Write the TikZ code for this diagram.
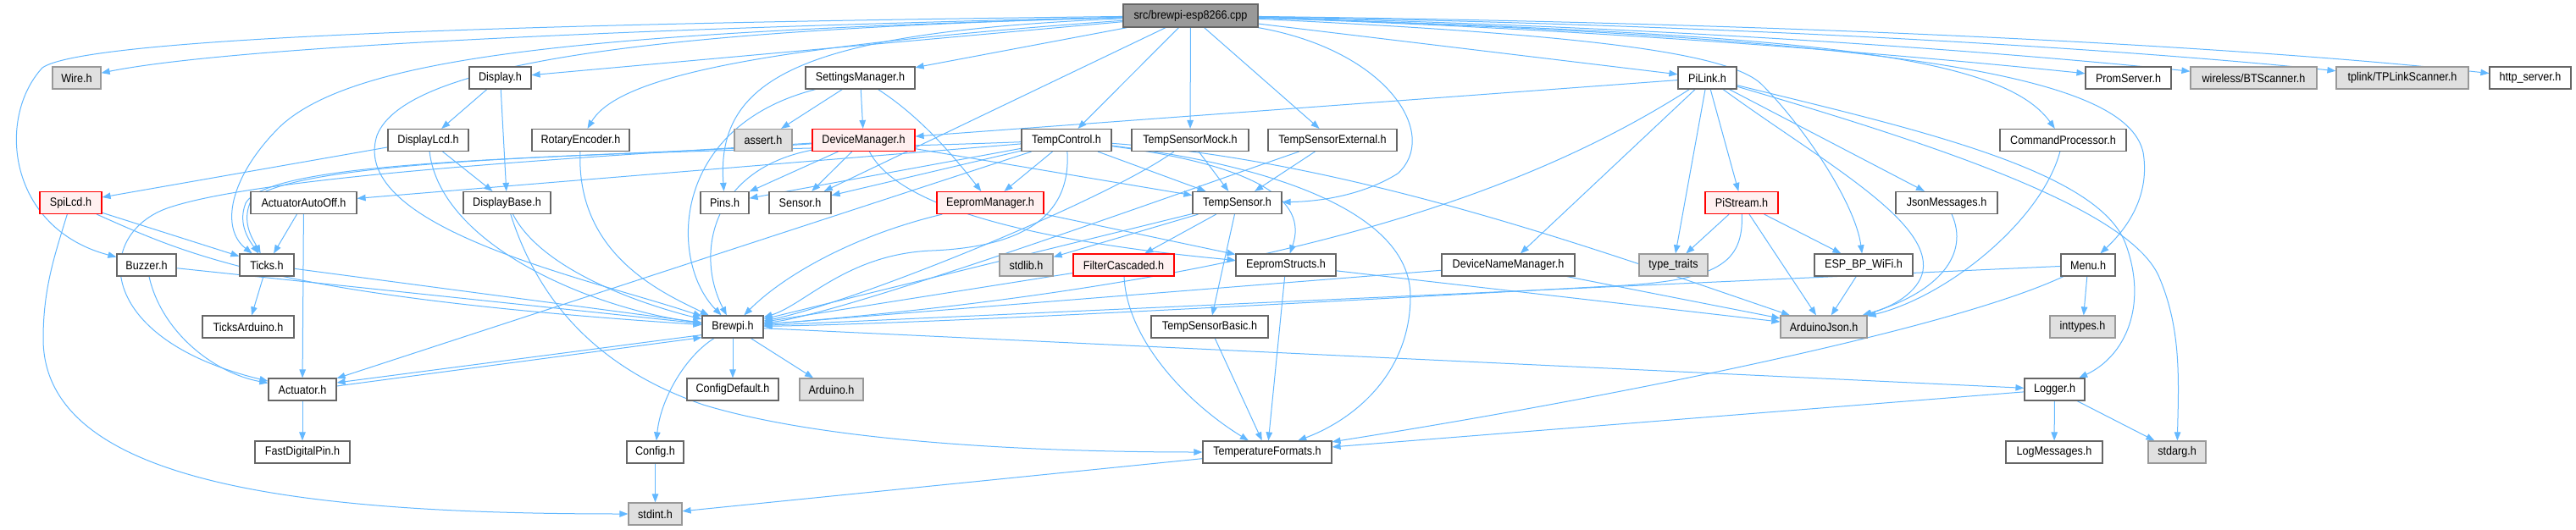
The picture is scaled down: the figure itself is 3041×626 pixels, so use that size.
\documentclass[tikz,border=0pt]{standalone}
\usepackage{fontspec}
\setmainfont{Liberation Sans}[FakeStretch=0.9]
\usetikzlibrary{arrows.meta}
\definecolor{edgec}{HTML}{63B8FF}
\definecolor{nodeborder}{HTML}{666666}
\definecolor{grayfill}{HTML}{E0E0E0}
\definecolor{grayborder}{HTML}{999999}
\definecolor{redfill}{HTML}{FFF0F0}
\definecolor{redborder}{HTML}{FF0000}
\definecolor{rootfill}{HTML}{999999}
\newcommand\nodefont{\fontsize{14}{16}\selectfont}
\pgfdeclarelayer{bg}
\pgfsetlayers{bg,main}
\tikzset{
  nd/.style={draw=nodeborder, fill=white, line width=1.2pt, minimum height=26pt, inner sep=0pt, font=\nodefont, text=black},
  gnd/.style={nd, draw=grayborder, fill=grayfill},
  rnd/.style={nd, draw=redborder, fill=redfill},
  rootnd/.style={nd, draw=nodeborder, fill=rootfill},
  e/.style={draw=edgec, line width=1pt, -{Triangle[length=10pt,width=7.5pt]}},
}
\begin{document}
\begin{tikzpicture}[x=1pt,y=-1pt]
\useasboundingbox (0,0) rectangle (3041,626);
\begin{pgfonlayer}{bg}
\fill[white] (0,0) rectangle (3041,626);
\end{pgfonlayer}
% row 0
\node[rootnd,minimum width=159pt,minimum height=27pt] (root) at (1405.5,18.5) {src/brewpi-esp8266.cpp};
% row 1
\node[gnd,minimum width=57pt] (wire) at (90.5,92) {Wire.h};
\node[nd,minimum width=73pt] (display) at (590.5,92) {Display.h};
\node[nd,minimum width=129pt] (sm) at (1015.5,92) {SettingsManager.h};
\node[nd,minimum width=69pt] (pilink) at (2015.5,92) {PiLink.h};
\node[nd,minimum width=101pt] (prom) at (2512.5,92) {PromServer.h};
\node[gnd,minimum width=149pt] (bt) at (2660.5,92) {wireless/BTScanner.h};
\node[gnd,minimum width=156pt] (tp) at (2836,92) {tplink/TPLinkScanner.h};
\node[nd,minimum width=96pt] (http) at (2987,92) {http\_server.h};
% row 2
\node[nd,minimum width=95pt] (dlcd) at (505.5,165.5) {DisplayLcd.h};
\node[nd,minimum width=115pt] (rot) at (685.5,165.5) {RotaryEncoder.h};
\node[gnd,minimum width=68pt] (assert) at (901,165.5) {assert.h};
\node[rnd,minimum width=121pt] (dm) at (1019.5,165.5) {DeviceManager.h};
\node[nd,minimum width=106pt] (tc) at (1259,165.5) {TempControl.h};
\node[nd,minimum width=138pt] (tsm) at (1405,165.5) {TempSensorMock.h};
\node[nd,minimum width=152pt] (tse) at (1573,165.5) {TempSensorExternal.h};
\node[nd,minimum width=149pt] (cp) at (2435.5,165.5) {CommandProcessor.h};
% row 3
\node[rnd,minimum width=73pt] (spi) at (83.5,239.5) {SpiLcd.h};
\node[nd,minimum width=125pt] (aao) at (358.5,239.5) {ActuatorAutoOff.h};
\node[nd,minimum width=103pt] (dbase) at (598.5,239.5) {DisplayBase.h};
\node[nd,minimum width=57pt] (pins) at (855.5,239.5) {Pins.h};
\node[nd,minimum width=73pt] (sensor) at (944.5,239.5) {Sensor.h};
\node[rnd,minimum width=126pt] (em) at (1169,239.5) {EepromManager.h};
\node[nd,minimum width=105pt] (ts) at (1460.5,239.5) {TempSensor.h};
\node[rnd,minimum width=86pt] (ps) at (2056,239.5) {PiStream.h};
\node[nd,minimum width=120pt] (jm) at (2298,239.5) {JsonMessages.h};
% row 4
\node[nd,minimum width=70pt] (buzzer) at (173,313) {Buzzer.h};
\node[nd,minimum width=64pt] (ticks) at (315,313) {Ticks.h};
\node[gnd,minimum width=63pt] (stdlib) at (1211.5,313) {stdlib.h};
\node[rnd,minimum width=119pt] (fc) at (1326.5,313) {FilterCascaded.h};
\node[nd,minimum width=118pt] (es) at (1518,313) {EepromStructs.h};
\node[nd,minimum width=157pt] (dnm) at (1780.5,313) {DeviceNameManager.h};
\node[gnd,minimum width=81pt] (tt) at (1975.5,313) {type\_traits};
\node[nd,minimum width=116pt] (esp) at (2200,313) {ESP\_BP\_WiFi.h};
\node[nd,minimum width=64pt] (menu) at (2465,313) {Menu.h};
% row 5
\node[nd,minimum width=108pt] (ta) at (293,386) {TicksArduino.h};
\node[nd,minimum width=72pt] (brewpi) at (865,386) {Brewpi.h};
\node[nd,minimum width=138pt] (tsb) at (1428,386) {TempSensorBasic.h};
\node[gnd,minimum width=102pt] (aj) at (2153,386) {ArduinoJson.h};
\node[gnd,minimum width=77pt] (inttypes) at (2458.5,386) {inttypes.h};
% row 6
\node[nd,minimum width=80pt] (act) at (357,460) {Actuator.h};
\node[nd,minimum width=108pt] (cfgdef) at (865,460) {ConfigDefault.h};
\node[gnd,minimum width=75pt] (arduino) at (981.5,460) {Arduino.h};
\node[nd,minimum width=71pt] (logger) at (2425.5,460) {Logger.h};
% row 7
\node[nd,minimum width=112pt] (fdp) at (357,534) {FastDigitalPin.h};
\node[nd,minimum width=67pt] (config) at (773.5,534) {Config.h};
\node[nd,minimum width=152pt] (tf) at (1496,534) {TemperatureFormats.h};
\node[nd,minimum width=114pt] (logm) at (2425,534) {LogMessages.h};
\node[gnd,minimum width=68pt] (stdarg) at (2570,534) {stdarg.h};
% row 8
\node[gnd,minimum width=63pt] (stdint) at (773.5,607) {stdint.h};

\begin{pgfonlayer}{bg}
% root
\draw[e] (root) .. controls (900,30) and (300,50) .. (wire);
\draw[e] (root) .. controls (600,28) and (100,45) .. (50,80) .. controls (-5,140) and (10,270) .. (buzzer);
\draw[e] (root) .. controls (700,38) and (420,65) .. (330,150) .. controls (270,210) and (260,270) .. (ticks);
\draw[e] (root) -- (display);
\draw[e] (root) .. controls (800,35) and (480,70) .. (445,160) .. controls (410,270) and (700,330) .. (brewpi);
\draw[e] (root) .. controls (900,55) and (730,90) .. (rot);
\draw[e] (root) -- (sm);
\draw[e] (root) .. controls (950,38) and (845,90) .. (pins);
\draw[e] (root) -- (sensor);
\draw[e] (root) -- (tc);
\draw[e] (root) -- (tsm);
\draw[e] (root) -- (tse);
\draw[e] (root) .. controls (1640,60) and (1700,160) .. (1650,205) .. controls (1610,230) and (1560,238) .. (ts);
\draw[e] (root) -- (pilink);
\draw[e] (root) .. controls (1850,40) and (2040,60) .. (2080,100) .. controls (2130,150) and (2190,240) .. (esp);
\draw[e] (root) .. controls (2100,40) and (2360,60) .. (cp);
\draw[e] (root) .. controls (2250,45) and (2510,90) .. (2530,180) .. controls (2540,240) and (2500,280) .. (menu);
\draw[e] (root) .. controls (1900,35) and (2250,65) .. (prom);
\draw[e] (root) .. controls (2000,32) and (2400,65) .. (bt);
\draw[e] (root) .. controls (2100,30) and (2550,62) .. (tp);
\draw[e] (root) .. controls (2200,28) and (2700,60) .. (http);
% display
\draw[e] (display) -- (dlcd);
\draw[e] (display) -- (dbase);
\draw[e] (dlcd) -- (spi);
\draw[e] (dlcd) -- (dbase);
\draw[e] (dlcd) .. controls (520,290) and (700,365) .. (brewpi);
\draw[e] (spi) -- (ticks);
\draw[e] (spi) .. controls (220,300) and (320,350) .. (brewpi);
\draw[e] (spi) .. controls (65,300) and (51,340) .. (51,400) .. controls (51,570) and (350,607) .. (stdint);
\draw[e] (aao) -- (ticks);
\draw[e] (aao) -- (act);
\draw[e] (buzzer) .. controls (190,390) and (250,440) .. (act);
\draw[e] (buzzer) -- (brewpi);
\draw[e] (ticks) -- (ta);
\draw[e] (ticks) -- (brewpi);
\draw[e] (dbase) .. controls (640,320) and (760,360) .. (brewpi);
\draw[e] (dbase) .. controls (640,370) and (720,440) .. (830,478) .. controls (1000,530) and (1300,534) .. (tf);
\draw[e] (rot) .. controls (680,300) and (780,345) .. (brewpi);
% settings manager
\draw[e] (sm) -- (assert);
\draw[e] (sm) -- (dm);
\draw[e] (sm) .. controls (1090,140) and (1130,190) .. (em);
\draw[e] (sm) .. controls (790,150) and (790,310) .. (brewpi);
% device manager
\draw[e] (dm) -- (pins);
\draw[e] (dm) -- (sensor);
\draw[e] (dm) -- (ts);
\draw[e] (dm) .. controls (1060,245) and (1220,285) .. (es);
\draw[e] (dm) .. controls (840,200) and (820,300) .. (brewpi);
\draw[e] (dm) .. controls (700,188) and (320,185) .. (290,240) .. controls (280,265) and (295,285) .. (ticks);
\draw[e] (dm) .. controls (600,190) and (300,212) .. (200,245) .. controls (110,275) and (110,400) .. (act);
% temp control
\draw[e] (tc) -- (pins);
\draw[e] (tc) -- (sensor);
\draw[e] (tc) -- (em);
\draw[e] (tc) -- (ts);
\draw[e] (tc) .. controls (1265,260) and (1200,292) .. (1100,296) .. controls (1000,300) and (950,360) .. (brewpi);
\draw[e] (tc) .. controls (900,180) and (330,178) .. (295,240) .. controls (285,265) and (300,285) .. (ticks);
\draw[e] (tc) -- (aao);
\draw[e] (tc) -- (act);
\draw[e] (tc) .. controls (1480,195) and (1545,235) .. (es);
\draw[e] (tc) .. controls (1600,190) and (1900,300) .. (aj);
\draw[e] (tc) .. controls (1500,195) and (1665,250) .. (1665,350) .. controls (1665,440) and (1600,495) .. (tf);
% temp sensors
\draw[e] (tsm) -- (ts);
\draw[e] (tsm) .. controls (1300,240) and (1000,360) .. (brewpi);
\draw[e] (tse) -- (ts);
\draw[e] (tse) .. controls (1400,225) and (1000,370) .. (brewpi);
\draw[e] (ts) -- (stdlib);
\draw[e] (ts) -- (fc);
\draw[e] (ts) -- (tsb);
\draw[e] (ts) -- (brewpi);
\draw[e] (em) -- (es);
\draw[e] (em) .. controls (1000,280) and (920,330) .. (brewpi);
\draw[e] (fc) -- (brewpi);
\draw[e] (fc) .. controls (1330,400) and (1400,475) .. (tf);
\draw[e] (es) -- (aj);
\draw[e] (es) -- (tf);
\draw[e] (tsb) -- (tf);
% pilink
\draw[e] (pilink) -- (dm);
\draw[e] (pilink) .. controls (1800,230) and (1500,335) .. (brewpi);
\draw[e] (pilink) -- (dnm);
\draw[e] (pilink) -- (tt);
\draw[e] (pilink) -- (ps);
\draw[e] (pilink) .. controls (2150,190) and (2280,260) .. (2270,320) .. controls (2265,345) and (2235,362) .. (aj);
\draw[e] (pilink) -- (jm);
\draw[e] (pilink) .. controls (2250,150) and (2480,200) .. (2510,290) .. controls (2535,360) and (2510,420) .. (logger);
\draw[e] (pilink) .. controls (2300,175) and (2520,250) .. (2550,330) .. controls (2575,390) and (2572,450) .. (stdarg);
\draw[e] (ps) -- (tt);
\draw[e] (ps) -- (esp);
\draw[e] (ps) -- (aj);
\draw[e] (ps) .. controls (2058,310) and (2030,332) .. (1900,338) .. controls (1500,360) and (1100,382) .. (brewpi);
\draw[e] (dnm) -- (brewpi);
\draw[e] (dnm) -- (aj);
\draw[e] (esp) -- (aj);
\draw[e] (jm) .. controls (2325,300) and (2290,345) .. (aj);
\draw[e] (cp) .. controls (2410,260) and (2300,350) .. (aj);
\draw[e] (menu) -- (inttypes);
\draw[e] (menu) -- (brewpi);
\draw[e] (menu) .. controls (2300,390) and (1900,470) .. (tf);
% brewpi
\draw[e] ([yshift=4pt]brewpi.south west) -- ([yshift=8pt]act.east);
\draw[e] ([yshift=4pt]act.east) -- ([yshift=1pt]brewpi.south west);
\draw[e] (brewpi) -- (cfgdef);
\draw[e] (brewpi) -- (arduino);
\draw[e] (brewpi) .. controls (810,420) and (780,470) .. (config);
\draw[e] (brewpi) -- (logger);
\draw[e] (act) -- (fdp);
\draw[e] (config) -- (stdint);
\draw[e] (tf) -- (stdint);
\draw[e] (logger) -- (logm);
\draw[e] (logger) -- (stdarg);
\draw[e] (logger) -- (tf);
\end{pgfonlayer}
\end{tikzpicture}
\end{document}
